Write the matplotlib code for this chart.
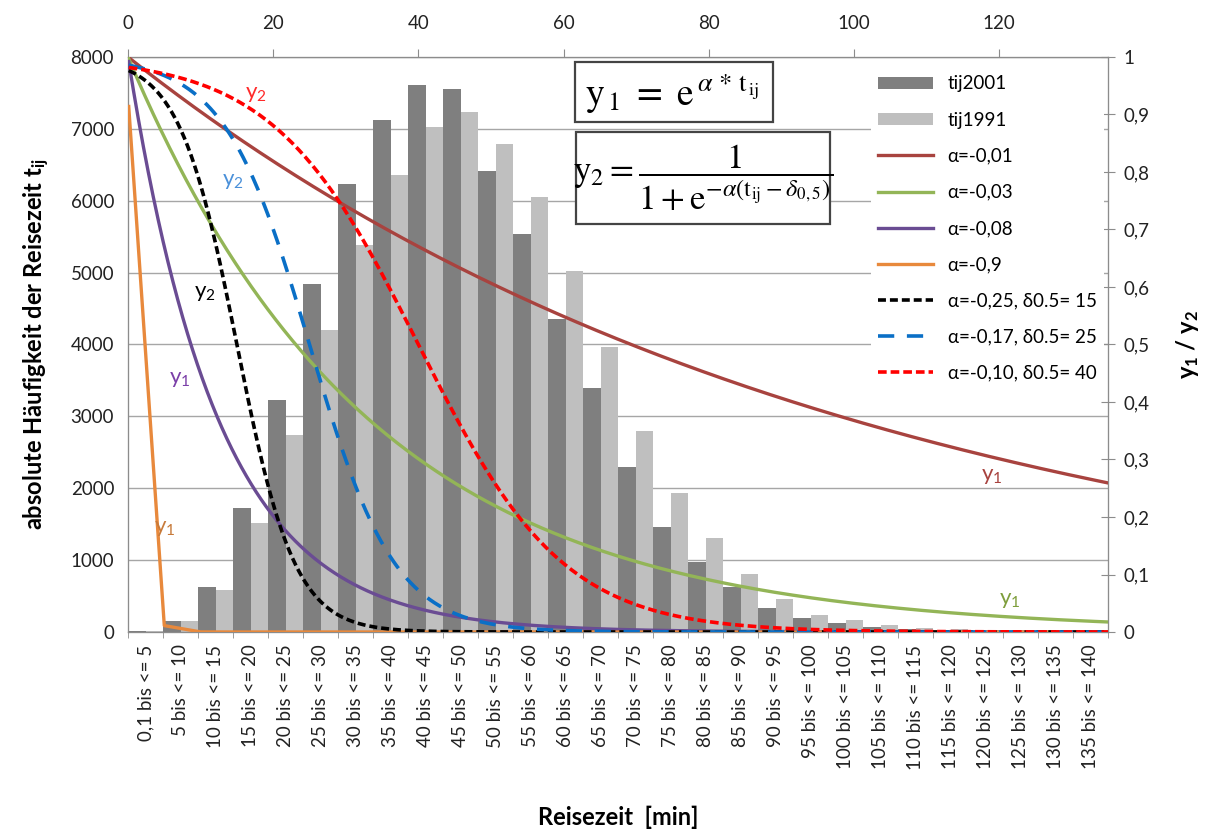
import numpy as np
import matplotlib
matplotlib.use("Agg")
import matplotlib.pyplot as plt
from matplotlib.patches import Rectangle
from matplotlib.ticker import FuncFormatter, MultipleLocator

plt.rcParams['font.family'] = ['Lato', 'DejaVu Sans']

# Klassen der Reisezeit
categories = ["0,1 bis <= 5", "5 bis <= 10", "10 bis <= 15", "15 bis <= 20",
              "20 bis <= 25", "25 bis <= 30", "30 bis <= 35", "35 bis <= 40",
              "40 bis <= 45", "45 bis <= 50", "50 bis <= 55", "55 bis <= 60",
              "60 bis <= 65", "65 bis <= 70", "70 bis <= 75", "75 bis <= 80",
              "80 bis <= 85", "85 bis <= 90", "90 bis <= 95", "95 bis <= 100",
              "100 bis <= 105", "105 bis <= 110", "110 bis <= 115", "115 bis <= 120",
              "120 bis <= 125", "125 bis <= 130", "130 bis <= 135", "135 bis <= 140"]

# absolute Haeufigkeiten
tij2001 = [15, 160, 630, 1720, 3230, 4840, 6230, 7120, 7610, 7560, 6420, 5540, 4360, 3390,
           2290, 1460, 980, 620, 340, 200, 120, 70, 45, 30, 20, 12, 8, 5]
tij1991 = [10, 150, 590, 1520, 2740, 4200, 5380, 6360, 7030, 7240, 6790, 6050, 5020, 3970,
           2800, 1930, 1310, 810, 460, 240, 170, 95, 55, 35, 22, 15, 10, 6]

# Stuetzstellen der Kurven (Klassengrenzen) und feines Raster fuer glatte Kurven
t = np.array([0.1, 5, 10, 15, 20, 25, 30, 35, 40, 45, 50, 55, 60, 65, 70,
              75, 80, 85, 90, 95, 100, 105, 110, 115, 120, 125, 130, 135])
t_fine = np.linspace(0.1, 135, 600)

# Parameter y1 = exp(alpha*t)
alpha_exp = [-0.01, -0.03, -0.08, -0.9]
labels_exp = ["α=-0,01", "α=-0,03", "α=-0,08", "α=-0,9"]
colors_exp = ['#A8433F', '#93B557', '#6A4C93', '#E8893C']

# Parameter y2 = 1/(1+exp(-alpha*(t-delta)))
alpha_log = [-0.25, -0.17, -0.10]
delta_log = [15, 25, 40]
labels_log = ["α=-0,25, δ0.5= 15", "α=-0,17, δ0.5= 25", "α=-0,10, δ0.5= 40"]
colors_log = ['black', '#0A6FC6', '#FF0000']
dashes_log = [(0, (2.2, 1.1)), (0, (4.5, 3.5)), (0, (2.4, 1.1))]

gray = '#8C8C8C'

fig = plt.figure(figsize=(12.07, 8.34), dpi=100)
ax = fig.add_axes([128/1207, 1-632/834, 980/1207, 575/834])

x = np.arange(len(categories))
w = 0.5
ax.bar(x - w/2, tij2001, w, color='#7F7F7F', label='tij2001', zorder=2)
ax.bar(x + w/2, tij1991, w, color='#BFBFBF', label='tij1991', zorder=2)
ax.set_xlim(-0.5, len(categories) - 0.5)
ax.set_ylim(0, 8000)
ax.yaxis.set_major_locator(MultipleLocator(1000))
ax.grid(axis='y', color='#A6A6A6', lw=1)
ax.set_axisbelow(True)
ax.set_xticks(x)
ax.set_xticklabels(categories, rotation=90, fontsize=13.5, color='#222222')
ax.set_xticks(np.arange(len(categories) + 1) - 0.5, minor=True)
ax.tick_params(axis='x', which='major', length=0, pad=9)
ax.tick_params(axis='x', which='minor', length=4, color=gray)
ax.tick_params(axis='y', length=0, pad=10, labelsize=13.5, labelcolor='#222222')
for s in ax.spines.values():
    s.set_color(gray)
ax.set_ylabel("absolute Häufigkeit der Reisezeit $\\mathregular{t_{ij}}$",
              fontsize=17, fontweight='bold', labelpad=13)
ax.set_xlabel("Reisezeit  [min]", fontsize=17, fontweight='bold')
ax.xaxis.set_label_coords(0.5, (632 - 806) / 575)

ax2 = ax.twinx()
ax2.set_ylim(0, 1)
ax2.yaxis.set_major_locator(MultipleLocator(0.1))
ax2.yaxis.set_major_formatter(FuncFormatter(lambda v, p: f"{v:.1f}".replace('.', ',') if 0 < v < 1 else f"{v:.0f}"))
ax2.tick_params(axis='y', direction='inout', length=10, color=gray, labelsize=13.5,
                labelcolor='#222222', pad=6)
ax2.set_ylabel("$\\mathregular{y_1}$ / $\\mathregular{y_2}$", fontsize=17,
               fontweight='bold', labelpad=18)

ax3 = ax2.twiny()
ax3.set_xlim(0, 135)
ax3.xaxis.set_major_locator(MultipleLocator(20))
ax3.tick_params(axis='x', direction='out', length=6, color=gray, labelsize=13.5,
                labelcolor='#222222', pad=12)
for a in (ax2, ax3):
    for s in a.spines.values():
        s.set_color(gray)

for a_, lab, col in zip(alpha_exp, labels_exp, colors_exp):
    # steile Kurve nur an den Klassengrenzen (wie im Original)
    tt = t if a_ < -0.5 else t_fine
    ax3.plot(tt, np.exp(a_ * tt), color=col, lw=2.4, label=lab, zorder=3)
for a_, d_, lab, col, ls in zip(alpha_log, delta_log, labels_log, colors_log, dashes_log):
    ax3.plot(t_fine, 1 / (1 + np.exp(-a_ * (t_fine - d_))), color=col, lw=2.6, ls=ls,
             label=lab, zorder=4)

# Kurvenbeschriftungen
notes = [(17.6, 0.935, "$\\mathregular{y_2}$", '#FF2A2A'),
         (14.5, 0.785, "$\\mathregular{y_2}$", '#4A90D9'),
         (10.6, 0.59, "$\\mathregular{y_2}$", 'black'),
         (7.2, 0.44, "$\\mathregular{y_1}$", '#7B3FA8'),
         (5.0, 0.18, "$\\mathregular{y_1}$", '#C77A3A'),
         (119, 0.272, "$\\mathregular{y_1}$", '#A8433F'),
         (121.5, 0.055, "$\\mathregular{y_1}$", '#7E9E3C')]
for tx, ty, s, c in notes:
    ax3.text(tx, ty, s, color=c, fontsize=16, ha='center', va='center', zorder=5)

h1, l1 = ax.get_legend_handles_labels()
h3, l3 = ax3.get_legend_handles_labels()
leg = ax3.legend(h1 + h3, l1 + l3, loc='upper right', bbox_to_anchor=(1104/1207, 1-68/834),
                 bbox_transform=fig.transFigure, fontsize=13.5, frameon=True, framealpha=1,
                 edgecolor='none', fancybox=False, handlelength=2.9, handleheight=0.6,
                 labelspacing=1.02, borderaxespad=0, borderpad=0.4)
leg.set_zorder(6)

# Formelkaesten
fig.patches.append(Rectangle((575/1207, 1-122/834), 198/1207, 60/834, transform=fig.transFigure,
                             facecolor='white', edgecolor='#444444', lw=1.6, zorder=2))
fig.patches.append(Rectangle((576/1207, 1-224/834), 254/1207, 92/834, transform=fig.transFigure,
                             facecolor='white', edgecolor='#444444', lw=1.6, zorder=2))
fig.text(672/1207, 1-94/834,
         r"$\mathrm{y}_{\,1}\ =\ \mathrm{e}^{\,\alpha\,*\,\mathrm{t}_{\,\mathrm{ij}}}$",
         math_fontfamily='stix', fontsize=27, ha='center', va='center', zorder=3)
fig.text(703/1207, 1-178/834,
         r"$\mathrm{y}_{2} = \dfrac{1}{1+\mathrm{e}^{-\alpha(\mathrm{t_{ij}}-\delta_{0,5})}}$",
         math_fontfamily='stix', fontsize=25, ha='center', va='center', zorder=3)

fig.savefig("out.png", dpi=100)
